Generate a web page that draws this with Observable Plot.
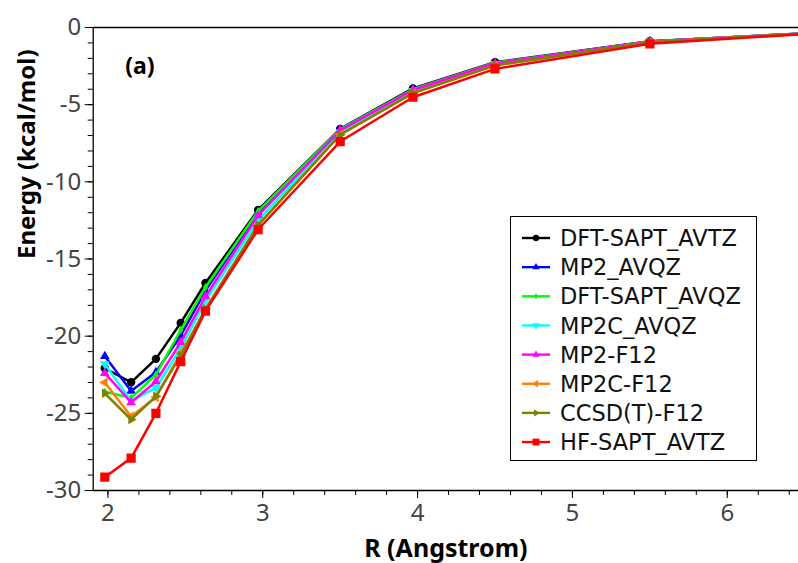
<!DOCTYPE html>
<html>
<head>
<meta charset="utf-8">
<script src="https://cdn.jsdelivr.net/npm/d3@7"></script>
<script src="https://cdn.jsdelivr.net/npm/@observablehq/plot@0.6"></script>
<style>
  html, body { margin: 0; padding: 0; background: #fff; overflow: hidden; }
  #wrap { position: relative; width: 798px; height: 563px; overflow: hidden; }
  #wrap svg.plot g[aria-label$="tick label"] { fill: #444; }
  #legend { position: absolute; left: 510px; top: 216px; }
</style>
</head>
<body>
<div id="wrap"></div>
<script>
// ---- data ----
const R = [1.98, 2.15, 2.31, 2.47, 2.63, 2.97, 3.5, 3.97, 4.5, 5.5, 6.5];
const seriesNames = ["DFT-SAPT_AVTZ", "MP2_AVQZ", "DFT-SAPT_AVQZ", "MP2C_AVQZ", "MP2-F12", "MP2C-F12", "CCSD(T)-F12", "HF-SAPT_AVTZ"];
const dftSaptAvtz = [-22.08, -22.99, -21.47, -19.14, -16.55, -11.82, -6.57, -3.95, -2.25, -0.89, -0.38];
const mp2Avqz     = [-21.30, -23.55, -22.34, -19.96, -17.05, -12.00, -6.62, -4.00, -2.30, -0.90, -0.38];
const dftSaptAvqz = [-23.60, -24.00, -22.50, -19.60, -16.83, -11.90, -6.60, -4.00, -2.28, -0.90, -0.38];
const mp2cAvqz    = [-21.80, -24.20, -23.35, -20.80, -17.69, -12.50, -6.78, -4.10, -2.35, -0.92, -0.38];
const mp2F12      = [-22.40, -24.30, -22.94, -20.40, -17.43, -12.18, -6.67, -4.05, -2.32, -0.91, -0.38];
const mp2cF12     = [-23.00, -25.20, -23.96, -21.10, -18.34, -12.83, -6.93, -4.25, -2.46, -0.95, -0.39];
const ccsdtF12    = [-23.70, -25.40, -23.90, -21.26, -18.23, -12.80, -6.95, -4.25, -2.45, -0.95, -0.39];
const hfSaptAvtz  = [-29.14, -27.90, -25.00, -21.65, -18.38, -13.09, -7.39, -4.52, -2.68, -1.06, -0.42];
const seriesValues = [dftSaptAvtz, mp2Avqz, dftSaptAvqz, mp2cAvqz, mp2F12, mp2cF12, ccsdtF12, hfSaptAvtz];
const yTicks = [0, -5, -10, -15, -20, -25, -30];
const xTicks = [2, 3, 4, 5, 6];

// ---- styles ----
const colors = ["#000000", "#0000ff", "#00ff00", "#00ffff", "#ff00ff", "#ff8000", "#808000", "#ff0000"];
function triSym(deg) {
  return {
    draw(ctx, size) {
      const y = -Math.sqrt(size / (Math.sqrt(3) * 3));
      const pts = [[0, 2 * y], [-Math.sqrt(3) * y, -y], [Math.sqrt(3) * y, -y]];
      const a = deg * Math.PI / 180;
      pts.forEach(([px, py], i) => {
        const X = px * Math.cos(a) - py * Math.sin(a);
        const Y = px * Math.sin(a) + py * Math.cos(a);
        i ? ctx.lineTo(X, Y) : ctx.moveTo(X, Y);
      });
      ctx.closePath();
    }
  };
}
const symbols = [d3.symbolCircle, triSym(0), d3.symbolDiamond, triSym(180), triSym(0), triSym(-90), triSym(90), d3.symbolSquare];
const radii = [4.2, 3.6, 2.6, 3.6, 3.6, 3.6, 3.6, 5.2];

const rows = [];
seriesNames.forEach((name, s) => {
  R.forEach((r, i) => rows.push({series: name, s, R: r, E: seriesValues[s][i]}));
});

const xDomain = [1.905, 6.46];
const yDomain = [-30, 0];
const noLabel = () => "";

const marks = [];
seriesNames.forEach((name, s) => {
  const d = rows.filter(r => r.s === s);
  marks.push(Plot.line(d, {x: "R", y: "E", stroke: colors[s], strokeWidth: 2.5, clip: true}));
  marks.push(Plot.dot(d, {x: "R", y: "E", fill: colors[s], stroke: "none", r: radii[s], symbol: symbols[s], clip: true}));
});

const plot = Plot.plot({
  width: 798,
  height: 563,
  marginLeft: 92.7,
  marginRight: 0,
  marginTop: 27,
  marginBottom: 73,
  style: {background: "#fff", fontFamily: "Noto Sans"},
  x: {domain: xDomain},
  y: {domain: yDomain},
  marks: [
    ...marks,
    Plot.axisY({ticks: d3.range(-30, 1, 1), tickSize: 5, tickFormat: noLabel, label: null, stroke: "#000"}),
    Plot.axisY({ticks: yTicks, tickSize: 8, tickPadding: 4, fontSize: 24, label: null, stroke: "#000", tickFormat: d => String(d)}),
    Plot.axisX({ticks: d3.range(2, 6.45, 0.2), tickSize: 5, tickFormat: noLabel, label: null, stroke: "#000"}),
    Plot.axisX({ticks: xTicks, tickSize: 8, tickPadding: 5, fontSize: 24, label: null, stroke: "#000", tickFormat: d => String(d)}),
    Plot.ruleY([0], {stroke: "#000", strokeWidth: 1.3}),
    Plot.ruleY([-30], {stroke: "#000", strokeWidth: 1.3}),
    Plot.ruleX([xDomain[0]], {stroke: "#000", strokeWidth: 1.3}),
    Plot.text(["(a)"], {frameAnchor: "top-left", dx: 32, dy: 39, lineAnchor: "middle", textAnchor: "start", fontSize: 23, fontWeight: "bold", fill: "#000"}),
    Plot.text(["R (Angstrom)"], {frameAnchor: "bottom", dy: 58.5, lineAnchor: "middle", fontSize: 25, fontWeight: "bold", fill: "#000"}),
    Plot.text(["Energy (kcal/mol)"], {frameAnchor: "left", dx: -66, rotate: -90, lineAnchor: "middle", fontSize: 24, fontWeight: "bold", fill: "#000"})
  ]
});
plot.classList.add("plot");
document.getElementById("wrap").appendChild(plot);

// ---- legend (overlay) ----
const LW = 247, LH = 245;
const leg = d3.create("svg").attr("id", "legend").attr("width", LW).attr("height", LH)
  .style("font-family", "DejaVu Sans").style("font-size", "22.5px");
leg.append("rect").attr("x", 0.5).attr("y", 0.5).attr("width", LW - 1).attr("height", LH - 1)
  .attr("fill", "#fff").attr("stroke", "#000").attr("stroke-width", 1);
seriesNames.forEach((name, s) => {
  const y = 22 + s * 29.15;
  const g = leg.append("g").attr("transform", `translate(0,${y})`);
  g.append("line").attr("x1", 12).attr("x2", 40).attr("y1", 0).attr("y2", 0)
    .attr("stroke", colors[s]).attr("stroke-width", 2.4);
  g.append("path").attr("transform", "translate(26,0)")
    .attr("d", d3.symbol(symbols[s], Math.PI * Math.pow(radii[s] * 0.75, 2))())
    .attr("fill", colors[s]);
  g.append("text").attr("x", 50).attr("y", 0).attr("dy", "0.36em").attr("fill", "#111").text(name);
});
document.getElementById("wrap").appendChild(leg.node());
</script>
</body>
</html>
